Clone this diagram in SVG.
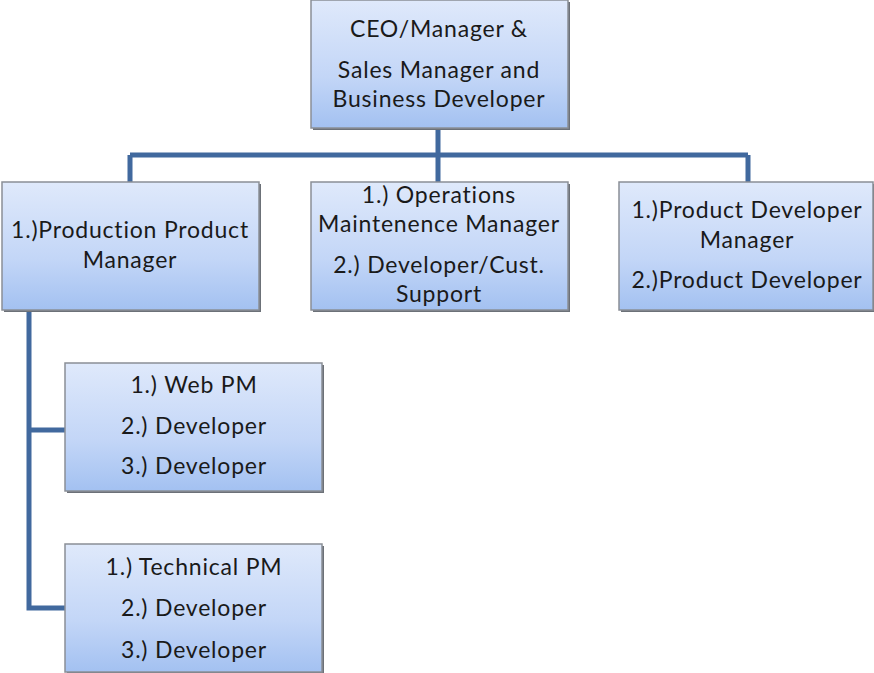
<svg xmlns="http://www.w3.org/2000/svg" width="874" height="673" viewBox="0 0 874 673">
<defs>
<linearGradient id="g" x1="0" y1="0" x2="0" y2="1">
<stop offset="0" stop-color="#dfe9fb"/>
<stop offset="0.6" stop-color="#c3d6f7"/>
<stop offset="1" stop-color="#a3c1f1"/>
</linearGradient>
</defs>
<style>
.box{fill:url(#g);stroke:#8a8f96;stroke-width:1.5}
.sh{fill:#6c7178}
text{font-family:Lato,"Open Sans","Liberation Sans",sans-serif;font-size:23px;letter-spacing:0.8px;fill:#1a1a1a;text-anchor:middle}
.c{stroke:#41699e;stroke-width:5;fill:none}
</style>
<rect width="874" height="673" fill="#fff"/>
<g id="connectors">
<path class="c" d="M438 128V182M130 155H748M130 155V182M748 155V182"/>
<path class="c" d="M29 310V608H65M29 430H65"/>
</g>
<g id="ceo">
<rect class="sh" x="313" y="2" width="257" height="128"/>
<rect class="box" x="311" y="0" width="257" height="128"/>
<text x="439" y="37">CEO/Manager &amp;</text>
<text x="439" y="78">Sales Manager and</text>
<text x="439" y="107">Business Developer</text>
</g>
<g id="production">
<rect class="sh" x="4" y="184" width="257" height="128"/>
<rect class="box" x="2" y="182" width="257" height="128"/>
<text x="130" y="238">1.)Production Product</text>
<text x="130" y="268">Manager</text>
</g>
<g id="operations">
<rect class="sh" x="313" y="184" width="257" height="128"/>
<rect class="box" x="311" y="182" width="257" height="128"/>
<text x="439" y="203">1.) Operations</text>
<text x="439" y="232">Maintenence Manager</text>
<text x="439" y="273">2.) Developer/Cust.</text>
<text x="439" y="302">Support</text>
</g>
<g id="productdev">
<rect class="sh" x="621" y="184" width="257" height="128"/>
<rect class="box" x="619" y="182" width="254" height="128"/>
<text x="747" y="218">1.)Product Developer</text>
<text x="747" y="248">Manager</text>
<text x="747" y="288">2.)Product Developer</text>
</g>
<g id="webpm">
<rect class="sh" x="67" y="365" width="257" height="128"/>
<rect class="box" x="65" y="363" width="257" height="128"/>
<text x="194" y="393">1.) Web PM</text>
<text x="194" y="434">2.) Developer</text>
<text x="194" y="474">3.) Developer</text>
</g>
<g id="techpm">
<rect class="sh" x="67" y="546" width="257" height="128"/>
<rect class="box" x="65" y="544" width="257" height="128"/>
<text x="194" y="575">1.) Technical PM</text>
<text x="194" y="616">2.) Developer</text>
<text x="194" y="658">3.) Developer</text>
</g>
</svg>
